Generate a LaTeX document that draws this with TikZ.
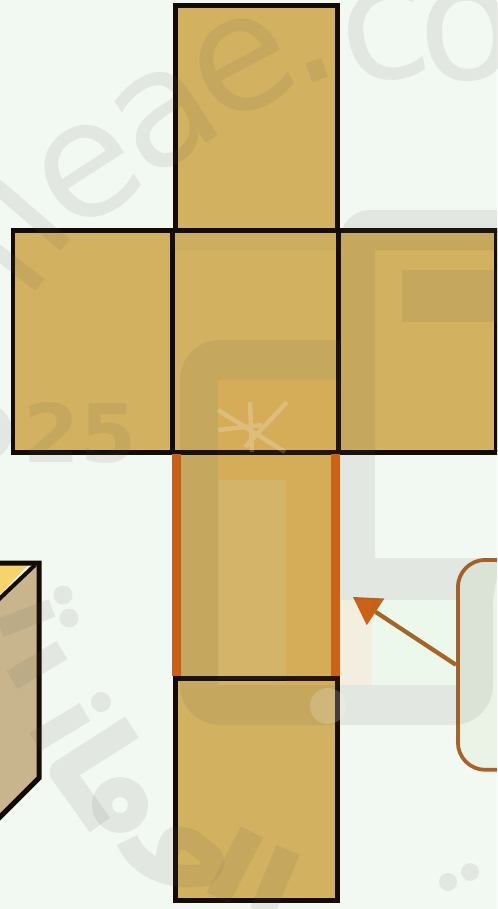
\documentclass[tikz,border=0pt]{standalone}
\usepackage{fontspec}
\setmainfont{DejaVu Sans}
\usetikzlibrary{arrows.meta}
\definecolor{bgc}{HTML}{F2F8F2}
\definecolor{facec}{HTML}{D2B160}
\definecolor{edgec}{HTML}{140C04}
\definecolor{orangec}{HTML}{C8601A}
\definecolor{linkc}{HTML}{A8622A}
\definecolor{wmc}{HTML}{5A5A50}
\definecolor{cubec}{HTML}{C8B58E}
\definecolor{cubetop}{HTML}{F5D46E}
\definecolor{notefill}{HTML}{EAF3E6}
\tikzset{
  x=0.02cm,y=-0.02cm,
  face/.style={fill=facec,draw=none},
  edgeline/.style={draw=edgec,line width=0.1cm},
  sideline/.style={draw=orangec,line width=0.18cm},
  wm/.style={fill=wmc,draw=none,fill opacity=0.1},
  wmline/.style={draw=wmc,draw opacity=0.1,line cap=butt,line join=round},
  wmtext/.style={text=wmc,text opacity=0.1,inner sep=0pt},
  callout/.style={draw=linkc,line width=0.075cm,fill=notefill,rounded corners=0.55cm,minimum width=3cm,minimum height=4.2cm,inner sep=0pt},
  pointer/.style={draw=linkc,line width=0.085cm,-{Triangle[length=0.54cm,width=0.64cm,fill=orangec,line width=0pt]}}
}
\begin{document}
\begin{tikzpicture}
\useasboundingbox (0,0) rectangle (497,909);
\clip (0,0) rectangle (497,909);
\fill[bgc] (0,0) rectangle (497,909);
% cube fragment
\fill[cubec] (-5,605) -- (38,562) -- (38,778) -- (-5,822) -- cycle;
\fill[cubetop] (-5,563) -- (30,563) -- (-5,600) -- cycle;
\draw[edgeline] (-5,563) -- (39,563) -- (39,778) -- (-5,822);
\draw[edgeline,line width=0.08cm] (35,565) -- (-5,603);
% net faces
\fill[face] (175,6) rectangle (337,230);
\fill[face] (13,230) rectangle (500,452);
\fill[face] (175,452) rectangle (337,678);
\fill[face] (175,678) rectangle (337,900);
% net edges
\draw[edgeline] (175,230) -- (175,6) -- (337,6) -- (337,230);
\draw[edgeline] (500,230) -- (13,230) -- (13,452) -- (500,452);
\draw[edgeline] (172,230) -- (172,452);
\draw[edgeline] (338,230) -- (338,452);
\draw[edgeline,line width=0.07cm] (496,230) -- (496,452);
\draw[sideline] (176.5,454) -- (176.5,676);
\draw[sideline] (335.5,454) -- (335.5,676);
\draw[edgeline] (175,678) -- (175,900) -- (337,900) -- (337,678) -- cycle;
% callout and pointer
\node[callout,anchor=north west] (note) at (456,558) {};
\coordinate (target) at (353,597);
\draw[pointer] (note.west) -- (target);
% watermark: logo tints
\fill[orange,fill opacity=0.07] (218,380) -- (340,380) -- (340,600) -- (372,600) -- (372,685) -- (286,685) -- (286,480) -- (218,480) -- cycle;
\fill[white,fill opacity=0.05] (218,480) rectangle (286,680);
\fill[green,fill opacity=0.02] (372,600) rectangle (457,685);
% watermark: logo bands
\fill[wm] (402,270) rectangle (500,322);
\fill[wm] (340,600) [rounded corners=0.6cm] -- (340,210) [sharp corners] -- (500,210) -- (500,250) -- (375,250) -- (375,558) -- (500,558) -- (493,600) -- cycle;
\fill[wm] (218,380) -- (340,380) -- (340,340) [rounded corners=0.8cm] -- (180,340) -- (180,725) [sharp corners] -- (218,725) [rounded corners=0.8cm] -- (493,725) [sharp corners] -- (493,600) -- (457,600) -- (457,685) -- (218,685) -- cycle;
\fill[white,fill opacity=0.18] (328,706) circle (18);
\fill[wm,fill opacity=0.04] (172,232) rectangle (340,250);
% watermark: emblem
\draw[white,draw opacity=0.2,line width=0.09cm] (218,410) -- (285,452) (287,402) -- (245,447) (218,430) -- (262,425) (250,402) -- (252,452);
% watermark: lettering
\node[wmtext,rotate=33,font=\fontsize{92}{92}\selectfont] (wa) at (88,172) {e};
\node[wmtext,rotate=33,font=\fontsize{92}{92}\selectfont] (wb) at (165,118) {a};
\node[wmtext,rotate=28,font=\fontsize{92}{92}\selectfont] (wc) at (243,66) {e};
\node[wmtext,rotate=20,font=\fontsize{92}{92}\selectfont] (wd) at (317,70) {.};
\node[wmtext,rotate=10,font=\fontsize{92}{92}\selectfont] (we) at (385,35) {c};
\node[wmtext,rotate=5,font=\fontsize{92}{92}\selectfont] (wf) at (468,35) {o};
\node[wmtext,font=\bfseries\fontsize{46}{46}\selectfont] (wg) at (80,433) {25};
\draw[wmline,line width=0.3cm] (-5,185) -- (65,245);
\draw[wmline,line width=0.3cm] (-5,250) -- (40,285);
\fill[wm] (-18,432) circle (30);
% watermark: lower-left script
\draw[wmline,line width=0.38cm] (0,628) -- (52,608);
\draw[wmline,line width=0.42cm] (12,680) -- (62,650);
\draw[wmline,line width=0.42cm] (35,742) -- (85,712);
\draw[wmline,line width=0.5cm] (132,727) -- (62,772) -- (100,825);
\draw[wmline,line width=0.4cm] (120,805) circle (18);
\draw[wmline,line width=0.45cm] (127,840) .. controls (140,870) and (175,880) .. (205,875) .. controls (218,860) .. (190,840) .. controls (170,835) .. (165,870);
\draw[wmline,line width=0.5cm] (252,832) -- (218,898);
\draw[wmline,line width=0.5cm] (288,850) -- (262,912);
\fill[wm] (63,595) circle (9.5) (69,618) circle (9.5) (101,702) circle (10);
\fill[wm] (448,882) circle (9) (470,872) circle (9);
\end{tikzpicture}
\end{document}
